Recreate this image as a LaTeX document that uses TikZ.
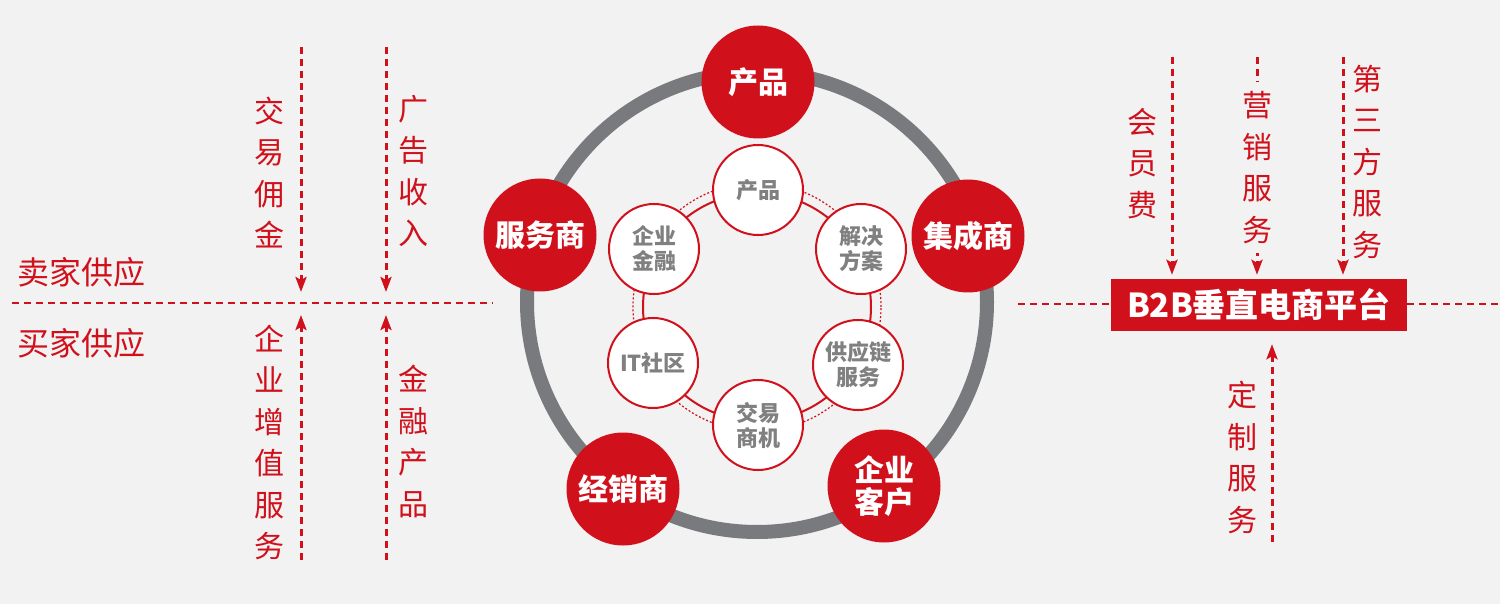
\documentclass[tikz,border=0pt]{standalone}
\usepackage{fontspec}
\setmainfont{Noto Sans CJK SC}
\newfontfamily\cjk{Noto Sans CJK SC}
\usetikzlibrary{arrows.meta}
\definecolor{bg}{RGB}{242,242,242}
\definecolor{brand}{RGB}{208,17,28}
\definecolor{ringgray}{RGB}{121,122,126}
\definecolor{txtgray}{RGB}{128,128,128}
\tikzset{
  bignode/.style={circle, fill=brand, minimum size=113pt, inner sep=0pt, text=white, align=center,
    font=\cjk\bfseries\fontsize{30}{32}\selectfont},
  smallnode/.style={circle, fill=white, draw=brand, line width=2pt, minimum size=90pt, inner sep=0pt,
    text=txtgray, align=center, font=\cjk\bfseries\fontsize{22}{25}\selectfont},
  vtext/.style={text=brand, align=center, inner sep=0pt, font=\cjk\fontsize{30}{41.5}\selectfont},
  sidetext/.style={text=brand, anchor=west, inner sep=0pt, font=\cjk\fontsize{32}{34}\selectfont},
  hdash/.style={draw=brand, line width=2pt, dash pattern=on 7pt off 5pt},
  varrow/.style={draw=brand, line width=3pt, dash pattern=on 7pt off 5pt,
    -{Stealth[length=15pt, width=11pt, inset=3pt]}},
  platform/.style={rectangle, fill=brand, minimum width=296pt, minimum height=52pt, inner sep=0pt,
    text=white, font=\cjk\bfseries\fontsize{33}{35}\selectfont}
}
\begin{document}
\begin{tikzpicture}[x=1pt, y=-1pt]
\useasboundingbox (0,0) rectangle (1500,604);
\fill[bg] (0,0) rectangle (1500,604);

% ---------- left part ----------
\coordinate (lL) at (12,303);
\coordinate (lR) at (493,303);
\draw[hdash] (lL) -- (lR);
\node[sidetext] (seller) at (17,272) {卖家供应};
\node[sidetext] (buyer) at (17,343) {买家供应};

\coordinate (a1s) at (301,47);  \coordinate (a1e) at (301,292);
\coordinate (a2s) at (386,47);  \coordinate (a2e) at (386,292);
\coordinate (a3s) at (301,560); \coordinate (a3e) at (301,315);
\coordinate (a4s) at (386,560); \coordinate (a4e) at (386,315);
\draw[varrow] (a1s) -- (a1e);
\draw[varrow] (a2s) -- (a2e);
\draw[varrow] (a3s) -- (a3e);
\draw[varrow] (a4s) -- (a4e);
\node[vtext] (t1) at (269,172.5) {交\\易\\佣\\金};
\node[vtext] (t2) at (413,171) {广\\告\\收\\入};
\node[vtext] (t3) at (269,442.5) {企\\业\\增\\值\\服\\务};
\node[vtext] (t4) at (413,441.5) {金\\融\\产\\品};

% ---------- centre ----------
\coordinate (ringc) at (757,302);
\draw[ringgray, line width=14pt] (ringc) circle[radius=230pt];
\coordinate (innc) at (757,307);
\draw[brand, line width=1.2pt, dash pattern=on 2pt off 2pt] (innc) circle[radius=124pt];
\draw[brand, line width=2pt] (innc) circle[radius=114pt];

\node[bignode] (b1) at (758,82) {产品};
\node[bignode] (b2) at (540,235) {服务商};
\node[bignode] (b3) at (968,236) {集成商};
\node[bignode] (b4) at (623,489) {经销商};
\node[bignode] (b5) at (884,486) {企业\\客户};

\node[smallnode] (s1) at (758,190) {产品};
\node[smallnode] (s2) at (861,249) {解决\\方案};
\node[smallnode] (s3) at (858,365) {供应链\\服务};
\node[smallnode] (s4) at (758,425) {交易\\商机};
\node[smallnode] (s5) at (653,363) {IT社区};
\node[smallnode] (s6) at (654,249) {企业\\金融};

% ---------- right part ----------
\node[platform] (plat) at (1259,305) {B2B垂直电商平台};
\coordinate (rL) at (1018,304);
\coordinate (rR) at (1500,304);
\draw[hdash] (rL) -- (rL -| plat.west);
\draw[hdash] (rR -| plat.east) -- (rR);

\coordinate (r1s) at (1172,57);
\coordinate (r2s) at (1257,57);
\coordinate (r3s) at (1343,57);
\coordinate (r4s) at (1272,542);
\draw[varrow, shorten >=4pt] (r1s) -- (r1s |- plat.north);
\draw[varrow, shorten >=4pt] (r2s) -- (r2s |- plat.north);
\draw[varrow, shorten >=4pt] (r3s) -- (r3s |- plat.north);
\draw[varrow, shorten >=13pt] (r4s) -- (r4s |- plat.south);

\node[vtext] (u1) at (1142,163.5) {会\\员\\费};
\node[vtext, fill=bg, inner ysep=9pt, inner xsep=2pt] (u2) at (1257,167.5) {营\\销\\服\\务};
\node[vtext] (u3) at (1367,161.5) {第\\三\\方\\服\\务};
\node[vtext] (u4) at (1242,457.5) {定\\制\\服\\务};
\end{tikzpicture}
\end{document}
